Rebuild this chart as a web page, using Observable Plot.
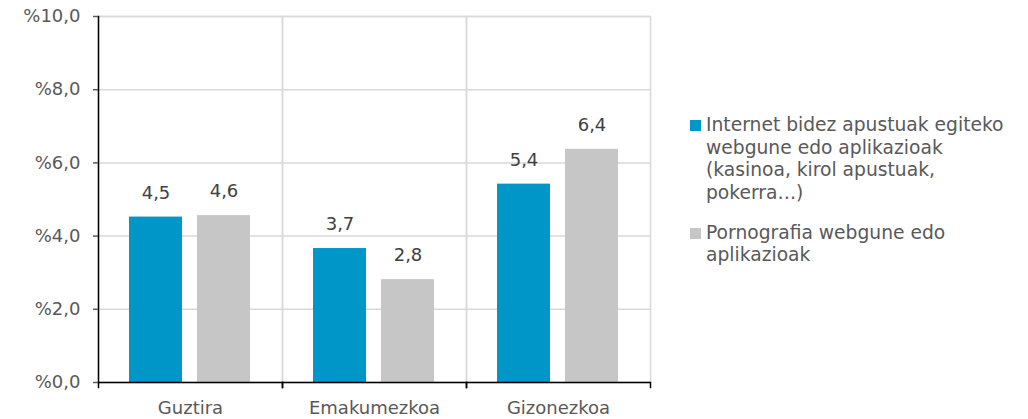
<!DOCTYPE html>
<html>
<head>
<meta charset="utf-8">
<script src="https://cdn.jsdelivr.net/npm/d3@7"></script>
<script src="https://cdn.jsdelivr.net/npm/@observablehq/plot@0.6"></script>
<style>
  html, body { margin: 0; padding: 0; background: #fff; }
  #wrap { position: relative; width: 1028px; height: 419px; font-family: "DejaVu Sans", Verdana, sans-serif; }
  #chart { position: absolute; left: 0; top: 0; }
  #legend { position: absolute; left: 690px; top: 114px; color: #595959; font-size: 18.7px; line-height: 22.5px; }
  .item { position: relative; padding-left: 16px; margin-bottom: 17.5px; }
  .sw { position: absolute; left: 0; top: 6px; width: 11px; height: 11px; }
</style>
</head>
<body>
<div id="wrap">
  <div id="chart"></div>
  <div id="legend"></div>
</div>
<script>
const categories = ["Guztira", "Emakumezkoa", "Gizonezkoa"];
const series = [
  "Internet bidez apustuak egiteko webgune edo aplikazioak (kasinoa, kirol apustuak, pokerra…)",
  "Pornografia webgune edo aplikazioak"
];
const legendLines = [
  ["Internet bidez apustuak egiteko", "webgune edo aplikazioak", "(kasinoa, kirol apustuak,", "pokerra…)"],
  ["Pornografia webgune edo", "aplikazioak"]
];
const bettingValues = [4.52, 3.66, 5.42];
const pornValues = [4.56, 2.81, 6.37];
const yTicks = [0, 2, 4, 6, 8, 10];
const colors = ["#0096c8", "#c6c6c6"];

const data = [];
categories.forEach((c, i) => {
  data.push({cat: c, series: series[0], value: bettingValues[i]});
  data.push({cat: c, series: series[1], value: pornValues[i]});
});

const fmt = v => v.toFixed(1).replace(".", ",");
const font = "DejaVu Sans, Verdana, sans-serif";

const chart = Plot.plot({
  width: 680,
  height: 419,
  marginLeft: 98,
  marginRight: 30,
  marginTop: 16,
  marginBottom: 37,
  style: {fontFamily: font, fontSize: "18px", color: "#595959", background: "#fff"},
  fx: {domain: categories, padding: 0, label: null},
  x: {domain: series, paddingInner: 0.22, paddingOuter: 0.46, axis: null},
  y: {domain: [0, 10], label: null},
  color: {domain: series, range: colors},
  marks: [
    Plot.gridY(yTicks, {stroke: "#d9d9d9", strokeOpacity: 1, strokeWidth: 1.5}),
    Plot.frame({stroke: "#d9d9d9", strokeWidth: 1.5}),
    Plot.barY(data, {fx: "cat", x: "series", y: "value", fill: "series"}),
    Plot.text(data, {fx: "cat", x: "series", y: "value", text: d => fmt(d.value), dy: -24, fontSize: 18, fill: "#404040"}),
    Plot.ruleY([0], {stroke: "black", strokeWidth: 1.5}),
    Plot.frame({anchor: "left", stroke: "black", strokeWidth: 1.5, facetAnchor: "left"}),
    Plot.frame({anchor: "left", stroke: "black", strokeWidth: 1.5, insetTop: 366, insetBottom: -5}),
    Plot.frame({anchor: "right", stroke: "black", strokeWidth: 1.5, insetTop: 366, insetBottom: -5}),
    Plot.axisY(yTicks, {tickSize: 5, tickPadding: 13, tickFormat: d => "%" + fmt(d), color: "#595959", fontSize: 18}),
    Plot.axisFx({anchor: "bottom", tickSize: 0, tickPadding: 19, color: "#595959", fontSize: 18, label: null})
  ]
});
chart.querySelectorAll('g[aria-label="y-axis tick"]').forEach(g => { g.setAttribute("stroke", "black"); g.setAttribute("stroke-width", "1.5"); });
document.getElementById("chart").appendChild(chart);

const legend = document.getElementById("legend");
legendLines.forEach((lines, i) => {
  const item = document.createElement("div");
  item.className = "item";
  const sw = document.createElement("div");
  sw.className = "sw";
  sw.style.background = colors[i];
  item.appendChild(sw);
  const t = document.createElement("div");
  t.innerHTML = lines.join("<br>");
  item.appendChild(t);
  legend.appendChild(item);
});
</script>
</body>
</html>
